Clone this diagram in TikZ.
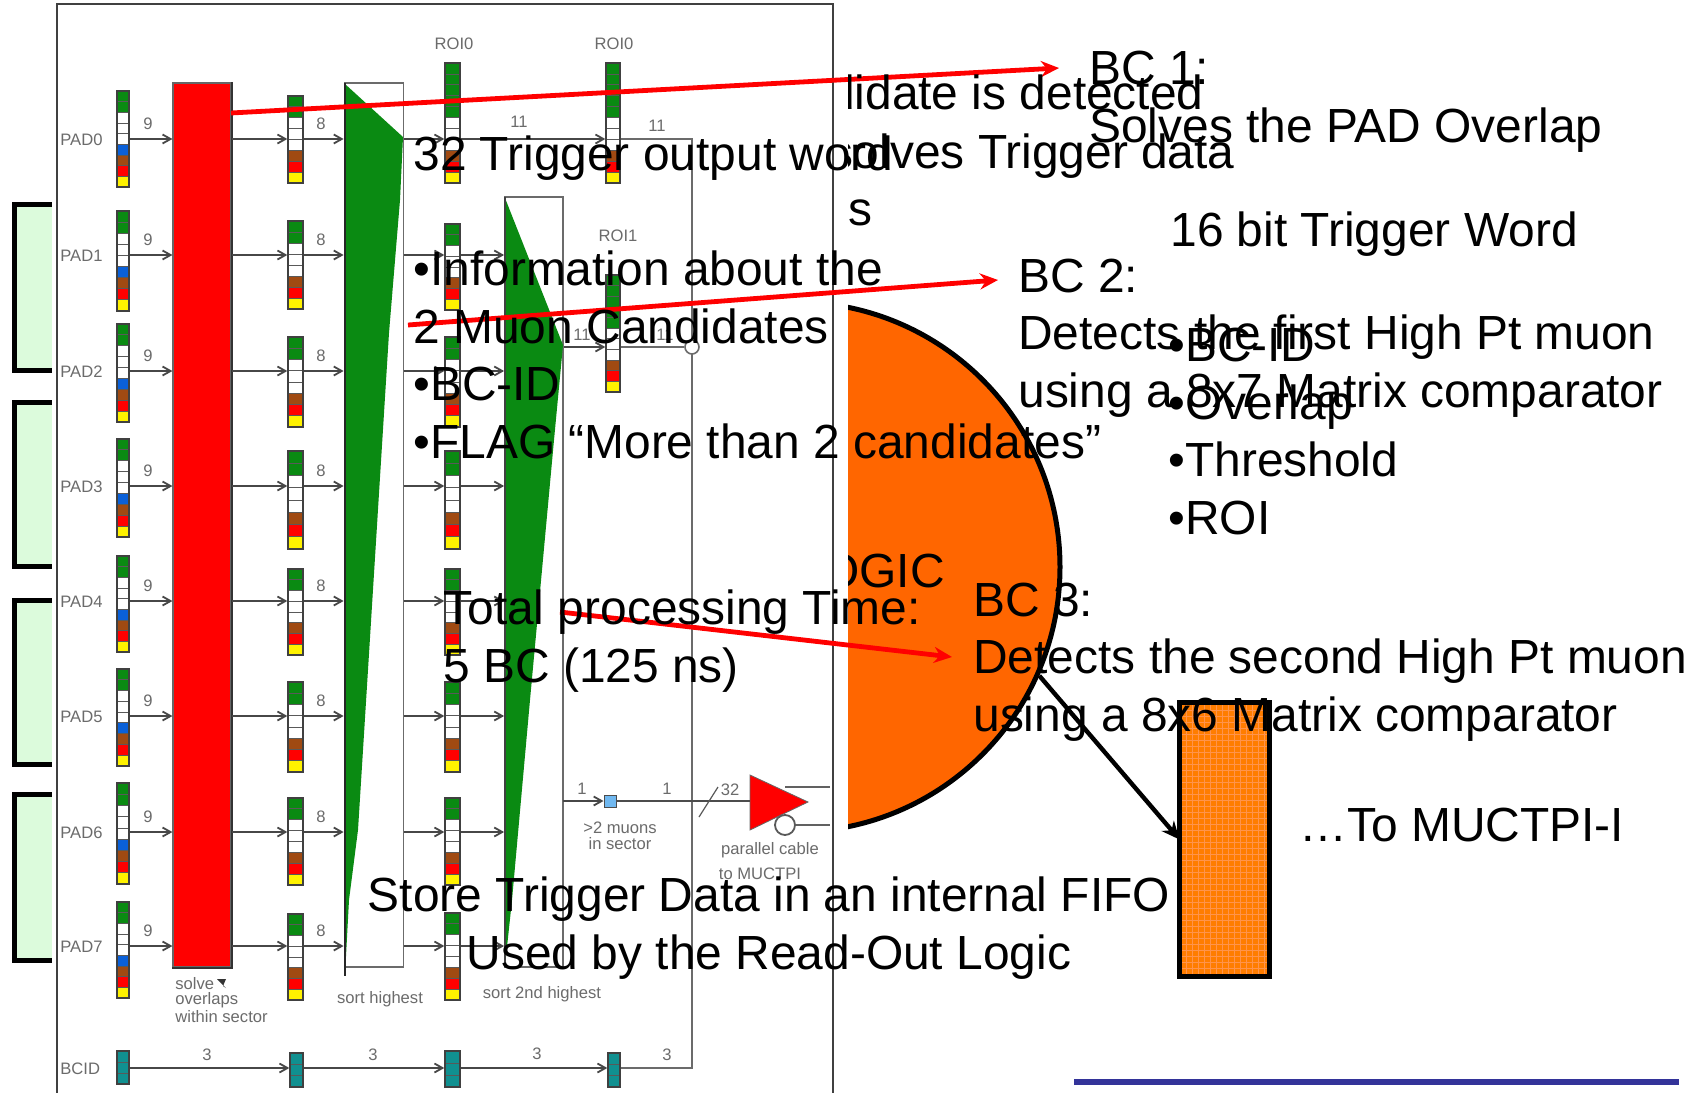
\documentclass[tikz,border=0pt]{standalone}
\usepackage{fontspec}
\setmainfont{Liberation Sans}
\usetikzlibrary{arrows.meta,calc}
\definecolor{gbar}{HTML}{0A8A12}
\definecolor{bbar}{HTML}{0A60D8}
\definecolor{kbar}{HTML}{A04A12}
\definecolor{tbar}{HTML}{109090}
\definecolor{paleg}{HTML}{DCFBDC}
\definecolor{orng}{HTML}{FF6600}
\definecolor{sky}{HTML}{70B8F0}
\definecolor{navyline}{HTML}{333399}
\tikzset{
  x=0.5pt,y=-0.5pt,
  big/.style={font=\fontsize{23.95}{28.75}\selectfont,inner sep=0pt,anchor=base west,align=left},
  bigc/.style={big,align=center,anchor=base},
  bige/.style={font=\fontsize{23.95}{28.75}\selectfont,inner sep=0pt,anchor=base east},
  tiny/.style={font=\fontsize{8.3}{8.3}\selectfont,text=black!58,inner sep=0pt},
  cellframe/.style={draw=black!75,line width=0.7pt,inner sep=0pt,fill=none},
  sig/.style={draw=black!72,line width=0.9pt,-{Straight Barb[length=4pt,width=4.5pt,line width=0.9pt]}},
  wire/.style={draw=black!62,line width=0.9pt},
  boxline/.style={draw=black!58,line width=0.9pt},
  redarrow/.style={draw=red,line width=2.4pt,-{Stealth[length=9pt,width=8pt]}},
  blackarrow/.style={draw=black,line width=2.2pt,-{Stealth[length=9pt,width=8pt]}},
  palebox/.style={fill=paleg,draw=black,line width=2.5pt,inner sep=0pt},
}
% name, xl, xr, ytop, ybot, colours
\newcommand{\cellbar}[6]{%
  \foreach \cc [count=\nn] in #6 {\global\let\ncells\nn}%
  \pgfmathsetmacro\cellh{(#5-#4)/\ncells}%
  \foreach \cc [count=\nn] in #6 {%
    \pgfmathsetmacro\ya{#4+(\nn-1)*\cellh}%
    \pgfmathsetmacro\yb{#4+\nn*\cellh}%
    \filldraw[fill=\cc,draw=black!65,line width=0.4pt] (#2,\ya) rectangle (#3,\yb);
  }%
  \pgfmathsetmacro\bw{(#3-#2)/2}\pgfmathsetmacro\bh{(#5-#4)/2}%
  \pgfmathsetmacro\bx{(#2+#3)/2}\pgfmathsetmacro\by{(#4+#5)/2}%
  \node[cellframe,minimum width=\bw pt,minimum height=\bh pt] (#1) at (\bx,\by) {};
}
\newcommand{\nine}{gbar,gbar,white,white,white,bbar,kbar,red,yellow}
\newcommand{\eight}{gbar,gbar,white,white,white,kbar,red,yellow}
\newcommand{\eleven}{gbar,gbar,gbar,gbar,gbar,white,white,white,kbar,red,yellow}
\newcommand{\tealthree}{tbar,tbar,tbar}
\begin{document}
\begin{tikzpicture}
\useasboundingbox (0,0) rectangle (1704,1093);
\fill[white] (0,0) rectangle (1704,1093);

% pale green boxes behind the picture
\node[palebox,minimum width=50pt,minimum height=83pt] (g0) at (64,287) {};
\node[palebox,minimum width=50pt,minimum height=82pt] (g1) at (64,484) {};
\node[palebox,minimum width=50pt,minimum height=82pt] (g2) at (64,682) {};
\node[palebox,minimum width=50pt,minimum height=83pt] (g3) at (64,877) {};

% orange logic block
\node[circle,fill=orng,draw=black,line width=2.5pt,minimum size=265pt,inner sep=0pt] (logic) at (795,567) {};

% white picture sheet
\fill[white] (52,-5) rectangle (848,1100);
\draw[draw=black!75,line width=1pt] (57,1100) -- (57,4) -- (833,4) -- (833,1100);

% rows
\foreach \r/\yy in {0/139,1/255,2/371,3/486,4/601,5/716,6/832,7/946,8/1068}
  \coordinate (row\r) at (0,\yy);

% big blocks
\node[fill=red,draw=black!60,line width=0.6pt,minimum width=29pt,minimum height=442pt,inner sep=0pt] (overlap) at (202,525) {};
\draw[black!80,line width=1pt] (overlap.north east) -- (overlap.south east) -- (overlap.south west);

\node[boxline,minimum width=29.5pt,minimum height=442pt,inner sep=0pt] (sortA) at (374,525) {};
\fill[gbar] (345,84) -- (403,137) -- (400,200) -- (389,333) -- (363,750) -- (358,830) -- (349,900) -- (345,975) -- cycle;
\draw[black!85,line width=1.4pt] (345,83) -- (345,976);

\node[boxline,minimum width=29pt,minimum height=385pt,inner sep=0pt] (sortB) at (534,582) {};
\fill[gbar] (505,198) -- (563,345) -- (554,440) -- (530,700) -- (512,900) -- (505,966) -- cycle;
\draw[black!75,line width=1.1pt] (505,197) -- (505,967);

% bit stacks
\foreach \r/\aa/\ab/\ba/\bb in {0/91/187/96/183,1/211/311/221/309,2/324/422/337/427,3/439/537/451/549,4/556/652/569/655,5/669/766/682/772,6/783/884/798/885,7/902/998/914/1000}{
  \cellbar{a\r}{117}{129}{\aa}{\ab}{\nine}
  \cellbar{b\r}{288}{303}{\ba}{\bb}{\eight}
}
\cellbar{c0}{445}{460}{63}{183}{\eleven}
\foreach \r/\ba/\bb in {1/224/310,2/337/427,3/451/549,4/569/655,5/682/772,6/798/885,7/913/1000}{
  \cellbar{c\r}{445}{460}{\ba}{\bb}{\eight}
}
\cellbar{d0}{606}{620}{63}{183}{\eleven}
\cellbar{d1}{606}{620}{275}{392}{\eleven}
\cellbar{a8}{117}{129}{1051}{1084}{\tealthree}
\cellbar{b8}{290}{303}{1053}{1087}{\tealthree}
\cellbar{c8}{445}{460}{1051}{1087}{\tealthree}
\cellbar{d8}{608}{620}{1053}{1087}{\tealthree}

% signal lines in each row
\foreach \r in {0,...,7}{
  \draw[sig] (a\r.east |- row\r) -- (overlap.west |- row\r);
  \draw[sig] (overlap.east |- row\r) -- (b\r.west |- row\r);
  \draw[sig] (b\r.east |- row\r) -- (sortA.west |- row\r);
  \draw[sig] (sortA.east |- row\r) -- (c\r.west |- row\r);
}
\foreach \r in {1,...,7}{
  \draw[sig] (c\r.east |- row\r) -- (sortB.west |- row\r);
}
\draw[sig] (c0.east |- row0) -- (d0.west |- row0);
\coordinate (outR) at (692,139);
\coordinate (outB) at (692,1068);
\draw[boxline] (d0.east |- row0) -- (outR) -- (outB) -- (d8.east |- row8);
\coordinate (roiA) at (0,347);
\draw[sig] (sortB.east |- roiA) -- (d1.west |- roiA);
\node[circle,draw=black!58,line width=0.8pt,fill=white,minimum size=7pt,inner sep=0pt] (merge) at (692,347) {};
\draw[boxline] (d1.east |- roiA) -- (merge);
\draw[sig] (a8.east |- row8) -- (b8.west |- row8);
\draw[sig] (b8.east |- row8) -- (c8.west |- row8);
\draw[sig] (c8.east |- row8) -- (d8.west |- row8);

% output driver
\node[fill=sky,draw=black!70,line width=0.5pt,minimum size=6pt,inner sep=0pt] (flag) at (610,801) {};
\coordinate (ftail) at (563,801);
\draw[sig] (ftail) -- (flag);
\path[fill=red,draw=black!60,line width=0.4pt] (750,775) coordinate (drvT) -- (808,802) coordinate (drvR) -- (750,830) coordinate (drvB) -- cycle;
\coordinate (drvL) at (750,801);
\draw[draw=black!70,line width=1.3pt] (flag) -- (drvL);
\coordinate (slashA) at (699,817);
\coordinate (slashB) at (718,787);
\draw[draw=black!65,line width=0.6pt] (slashA) -- (slashB);
\node[circle,draw=black!65,line width=0.9pt,fill=white,minimum size=10pt,inner sep=0pt] (bubble) at (785,825) {};
\coordinate (outP) at (830,787);
\coordinate (outN) at (830,825);
\draw[wire] (785,787) -- (outP);
\draw[wire] (bubble) -- (outN);

% small labels in the picture
\foreach \r/\yy in {0/140,1/256,2/372,3/487,4/602,5/717,6/833,7/947}{
  \node[tiny,anchor=west] (pl\r) at (60,\yy) {PAD\r};
  \pgfmathsetmacro\yt{\yy-16}
  \node[tiny] (na\r) at (148,\yt) {9};
  \node[tiny] (nb\r) at (321,\yt) {8};
}
\node[tiny,anchor=west] (plb) at (60,1069) {BCID};
\node[tiny] (r0a) at (454,44) {ROI0};
\node[tiny] (r0b) at (614,44) {ROI0};
\node[tiny] (r1) at (618,236) {ROI1};
\node[tiny] (n11a) at (519,122) {11};
\node[tiny] (n11b) at (657,126) {11};
\node[tiny] (n11c) at (582,335) {11};
\node[tiny] (n11d) at (665,335) {11};
\node[tiny] (n3a) at (207,1055) {3};
\node[tiny] (n3b) at (373,1055) {3};
\node[tiny] (n3c) at (537,1054) {3};
\node[tiny] (n3d) at (667,1055) {3};
\node[tiny] (n1a) at (582,789) {1};
\node[tiny] (n1b) at (667,789) {1};
\node[tiny] (n32) at (730,790) {32};
\node[tiny,align=center,font=\fontsize{8.3}{8}\selectfont] (more) at (620,836) {>2 muons\\in sector};
\node[tiny] (par) at (770,850) {parallel cable};
\node[tiny] (tom) at (760,874) {to MUCTPI};
\node[tiny] (s2) at (542,994) {sort 2nd highest};
\node[tiny] (s1) at (380,999) {sort highest};
\node[tiny,align=left,anchor=north west,font=\fontsize{8.3}{7.7}\selectfont] (solve) at (175,977) {solve\\overlaps\\within sector};
\coordinate (cur) at (223,986);
\fill[black!80] (217,979) -- (226,979) -- (cur) -- (226,988) -- cycle;

% FIFO
\node[fill=orng!85!yellow,draw=black,line width=2.5pt,outer sep=0pt,minimum width=45pt,minimum height=137pt,inner sep=0pt] (fifo) at (1224.5,839.5) {};
\begin{scope}
\clip (fifo.south west) rectangle (fifo.north east);
\foreach \xx in {1180,1186,...,1270} \draw[orng!70!white,line width=0.5pt] (\xx,701) -- (\xx,978);
\foreach \yy in {704,710,...,975} \draw[orng!70!white,line width=0.5pt] (1177,\yy) -- (1272,\yy);
\end{scope}
\draw[black,line width=2.5pt] (fifo.south west) rectangle (fifo.north east);

% arrows
\coordinate (rA) at (231,113);
\coordinate (tA) at (1059,68);
\coordinate (sB) at (408,325);
\coordinate (tB) at (998,280);
\coordinate (sC) at (560,612);
\coordinate (tC) at (952,657);
\draw[redarrow] (rA) -- (tA);
\draw[redarrow] (sB) -- (tB);
\draw[redarrow] (sC) -- (tC);
\draw[blackarrow] (logic.-24) -- (fifo.west);

% texts cut by the picture's edge
\begin{scope}
\clip (848,0) rectangle (1704,1093);
\node[bige] (t1) at (1204,109) {didate is detected};
\node[bige] (t2) at (1235,168) {solves Trigger data};
\node[bige] (t3) at (873,225) {os};
\node[bige] (t4) at (945,587) {OGIC};
\end{scope}
% texts
\node[big] (bc1) at (1089,142) {BC 1:\\Solves the PAD Overlap};
\node[big] (w16) at (1168,534) {\hspace*{1pt}16 bit Trigger Word\\ \\•BC-ID\\•Overlap\\•Threshold\\•ROI};
\node[big] (bc2) at (1018,407) {BC 2:\\Detects the first High Pt muon\\using a 8x7 Matrix comparator};
\node[big] (bc3) at (973,731) {BC 3:\\Detects the second High Pt muon\\using a 8x6 Matrix comparator};
\node[big] (tot) at (443,682) {Total processing Time:\\5 BC (125 ns)};
\node[bigc] (store) at (769,969) {Store Trigger Data in an internal FIFO\\Used by the Read-Out Logic};
\node[big] (w32) at (413,458) {32 Trigger output word\\ \\•Information about the\\2 Muon Candidates\\•BC-ID\\•FLAG “More than 2 candidates”};
\node[big] (muct) at (1299,841) {…To MUCTPI-I};

% bottom rule
\fill[navyline] (1074,1079) rectangle (1679,1085);
\end{tikzpicture}
\end{document}
